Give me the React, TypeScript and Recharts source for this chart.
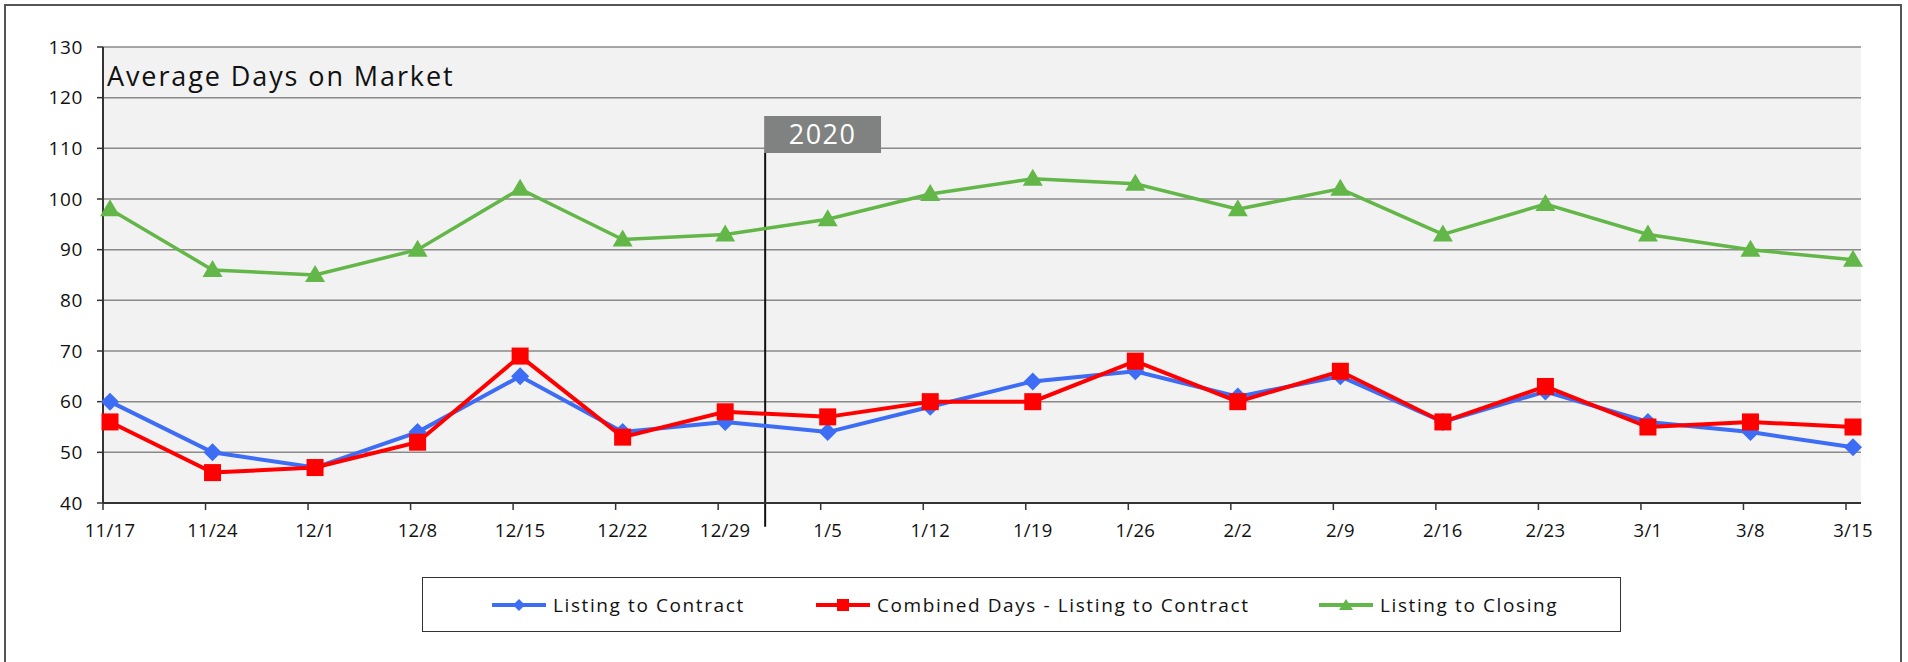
import React from "react";
import {
  LineChart,
  Line,
  XAxis,
  YAxis,
  CartesianGrid,
  ReferenceLine,
  ReferenceArea,
} from "recharts";

const categories = [
  "11/17", "11/24", "12/1", "12/8", "12/15", "12/22", "12/29", "1/5", "1/12",
  "1/19", "1/26", "2/2", "2/9", "2/16", "2/23", "3/1", "3/8", "3/15",
];
const listingToContract = [60, 50, 47, 54, 65, 54, 56, 54, 59, 64, 66, 61, 65, 56, 62, 56, 54, 51];
const combinedDays = [56, 46, 47, 52, 69, 53, 58, 57, 60, 60, 68, 60, 66, 56, 63, 55, 56, 55];
const listingToClosing = [98, 86, 85, 90, 102, 92, 93, 96, 101, 104, 103, 98, 102, 93, 99, 93, 90, 88];
const yTicks = [40, 50, 60, 70, 80, 90, 100, 110, 120, 130];
const seriesNames = ["Listing to Contract", "Combined Days - Listing to Contract", "Listing to Closing"];
const yearMarker = { x: 6.39, label: "2020" };

const BLUE = "#3d6cf5";
const RED = "#ff0000";
const GREEN = "#63b648";
const FONT = "'Open Sans', sans-serif";

const data = categories.map((c, i) => ({
  idx: i,
  label: c,
  ltc: listingToContract[i],
  comb: combinedDays[i],
  close: listingToClosing[i],
}));

const Diamond = (props: any) => {
  const { cx, cy, index } = props;
  if (cx == null || cy == null) return <g key={"d" + index} />;
  const r = 9;
  return (
    <path
      key={"d" + index}
      d={`M${cx},${cy - r} L${cx + r},${cy} L${cx},${cy + r} L${cx - r},${cy} Z`}
      fill={BLUE}
    />
  );
};
const Square = (props: any) => {
  const { cx, cy, index } = props;
  if (cx == null || cy == null) return <g key={"s" + index} />;
  const r = 8.5;
  return <rect key={"s" + index} x={cx - r} y={cy - r} width={2 * r} height={2 * r} fill={RED} />;
};
const Triangle = (props: any) => {
  const { cx, cy, index } = props;
  if (cx == null || cy == null) return <g key={"t" + index} />;
  return (
    <path
      key={"t" + index}
      d={`M${cx},${cy - 10} L${cx + 10},${cy + 7} L${cx - 10},${cy + 7} Z`}
      fill={GREEN}
    />
  );
};

const XTick = (props: any) => {
  const { x, y, payload } = props;
  return (
    <g>
      <line x1={x - 7} x2={x - 7} y1={y} y2={y + 7} stroke="#333" strokeWidth={1.5} />
      <text x={x} y={y + 34} textAnchor="middle" fontSize={18.5} fontWeight={500} fontFamily={FONT} fill="#111" letterSpacing={0.3}>
        {categories[payload.value]}
      </text>
    </g>
  );
};

const YearLabel = (props: any) => {
  const { viewBox } = props;
  if (!viewBox) return null;
  return (
    <text
      x={viewBox.x + viewBox.width / 2}
      y={viewBox.y + viewBox.height / 2 + 10}
      textAnchor="middle"
      fontSize={27}
      fontFamily={FONT}
      letterSpacing={1.5}
      fill="#fff"
    >
      {yearMarker.label}
    </text>
  );
};

const LegendItem = ({ color, shape, name, left }: { color: string; shape: string; name: string; left: number }) => (
  <div style={{ position: "absolute", left, top: 0, height: "100%", display: "flex", alignItems: "center" }}>
    <svg width={56} height={16} style={{ marginRight: 6 }}>
      <line x1={1} x2={55} y1={8} y2={8} stroke={color} strokeWidth={4} />
      {shape === "diamond" && <path d="M28,2 L34,8 L28,14 L22,8 Z" fill={color} />}
      {shape === "square" && <rect x={22} y={2} width={12} height={12} fill={color} />}
      {shape === "triangle" && <path d="M28,2 L35,13 L21,13 Z" fill={color} />}
    </svg>
    <span style={{ fontFamily: FONT, fontSize: 19, fontWeight: 500, letterSpacing: 1.6, color: "#111", whiteSpace: "nowrap" }}>{name}</span>
  </div>
);

export default function App() {
  return (
    <div style={{ position: "absolute", left: 0, top: 0, width: 1908, height: 662, overflow: "hidden", background: "#fff" }}>
      <div
        style={{
          position: "absolute",
          left: 4,
          top: 4,
          width: 1898,
          height: 700,
          border: "2px solid #555",
          boxSizing: "border-box",
        }}
      />
      <div style={{ position: "absolute", left: 0, top: 0 }}>
        <LineChart
          width={1908}
          height={662}
          data={data}
          margin={{ top: 47, right: 47, bottom: 129, left: 43 }}
        >
          <CartesianGrid
            horizontal={true}
            vertical={false}
            stroke="#8a8a8a"
            strokeWidth={1.5}
            fill="#f2f2f2"
            fillOpacity={1}
          />
          <XAxis
            dataKey="idx"
            type="number"
            domain={[0, categories.length - 1]}
            ticks={categories.map((_, i) => i)}
            padding={{ left: 7, right: 8 }}
            tick={<XTick />}
            tickLine={false}
            tickSize={0}
            tickMargin={0}
            height={30}
            axisLine={{ stroke: "#333", strokeWidth: 2 }}
            interval={0}
          />
          <YAxis
            domain={[40, 130]}
            ticks={yTicks}
            width={60}
            tickSize={6}
            tickMargin={14}
            tickLine={{ stroke: "#333", strokeWidth: 1.5 }}
            axisLine={{ stroke: "#333", strokeWidth: 2 }}
            tick={{ fontSize: 19, fontWeight: 500, fontFamily: FONT, fill: "#111", letterSpacing: 0.6 }}
            interval={0}
          />
          <YAxis
            yAxisId="r"
            orientation="right"
            domain={[40, 130]}
            width={0}
            tick={false}
            tickLine={false}
            axisLine={{ stroke: "#8a8a8a", strokeWidth: 2 }}
          />
          <ReferenceLine
            segment={[
              { x: yearMarker.x, y: 109.1 },
              { x: yearMarker.x, y: 35.3 },
            ]}
            stroke="#111"
            strokeWidth={2}
            ifOverflow="visible"
          />
          <ReferenceArea
            x1={yearMarker.x - 0.01}
            x2={yearMarker.x + 1.13}
            y1={109.1}
            y2={116.4}
            fill="#7f8280"
            fillOpacity={1}
            stroke="none"
            ifOverflow="visible"
            label={<YearLabel />}
          />
          <Line
            dataKey="close"
            stroke={GREEN}
            strokeWidth={3.5}
            dot={Triangle}
            activeDot={false}
            isAnimationActive={false}
          />
          <Line
            dataKey="ltc"
            stroke={BLUE}
            strokeWidth={4}
            dot={Diamond}
            activeDot={false}
            isAnimationActive={false}
          />
          <Line
            dataKey="comb"
            stroke={RED}
            strokeWidth={4}
            dot={Square}
            activeDot={false}
            isAnimationActive={false}
          />
        </LineChart>
      </div>
      <div
        style={{
          position: "absolute",
          left: 107,
          top: 60,
          fontFamily: FONT,
          fontSize: 27,
          fontWeight: 500,
          color: "#111",
          lineHeight: "32px",
          letterSpacing: 1.9,
          whiteSpace: "nowrap",
        }}
      >
        Average Days on Market
      </div>
      <div
        style={{
          position: "absolute",
          left: 422,
          top: 577,
          width: 1199,
          height: 55,
          border: "1.5px solid #333",
          boxSizing: "border-box",
        }}
      >
        <LegendItem color={BLUE} shape="diamond" name={seriesNames[0]} left={68} />
        <LegendItem color={RED} shape="square" name={seriesNames[1]} left={392} />
        <LegendItem color={GREEN} shape="triangle" name={seriesNames[2]} left={895} />
      </div>
    </div>
  );
}
